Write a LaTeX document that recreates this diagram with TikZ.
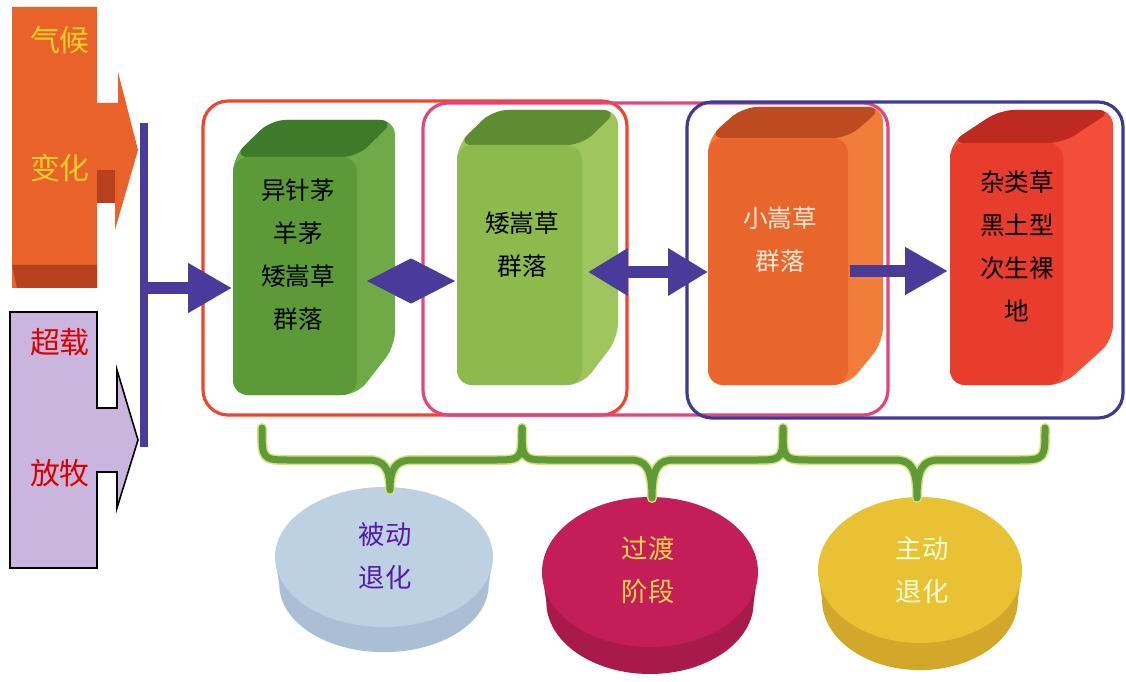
\documentclass[tikz,border=0pt]{standalone}
\usepackage{fontspec}
\newfontfamily\cjk{Noto Sans CJK SC}
\usetikzlibrary{arrows.meta,calc}
\definecolor{pur}{HTML}{4A3A9A}
\definecolor{orgA}{HTML}{E8622A}
\definecolor{orgD}{HTML}{B8401E}
\definecolor{lav}{HTML}{C9B5DD}
\definecolor{frRed}{HTML}{F0442C}
\definecolor{frPink}{HTML}{E6437C}
\definecolor{frBlue}{HTML}{3C3A94}
\definecolor{gAf}{HTML}{5C9A38}\definecolor{gAt}{HTML}{3F7A2A}\definecolor{gAs}{HTML}{70AA46}
\definecolor{gBf}{HTML}{8CBA4C}\definecolor{gBt}{HTML}{5F8C32}\definecolor{gBs}{HTML}{9EC65C}
\definecolor{oCf}{HTML}{E8662C}\definecolor{oCt}{HTML}{BE4A22}\definecolor{oCs}{HTML}{F27C3A}
\definecolor{rDf}{HTML}{E83C2C}\definecolor{rDt}{HTML}{BE2A20}\definecolor{rDs}{HTML}{F24E3A}
\definecolor{brG}{HTML}{5E9A38}\definecolor{brY}{HTML}{D8E27A}
\definecolor{dAt}{HTML}{BDD1E3}\definecolor{dAs}{HTML}{AABFD4}
\definecolor{dBt}{HTML}{C41E58}\definecolor{dBs}{HTML}{A81A4A}
\definecolor{dCt}{HTML}{E8C232}\definecolor{dCs}{HTML}{D2A82A}
\newcommand\prismbox[9]{%
  \fill[#9,rounded corners=0.3cm] (#1,#4)--(#1,#2)--(#1+#5,#2-#6)--(#3+#5,#2-#6)--(#3+#5,#4-#6-12)--(#3,#4)--cycle;
  \fill[#8,rounded corners=0.3cm] (#1,#2)--(#1+#5,#2-#6)--(#3+#5,#2-#6)--(#3,#2)--cycle;
  \fill[#7,rounded corners=0.3cm] (#1,#2) rectangle (#3,#4);}
\newcommand\diskshape[7]{%
  \fill[#7] (#1,#2+#5) ellipse[x radius=#3*0.96,y radius=#4*0.96];
  \fill[#7] (#1-#3,#2) -- (#1+#3,#2) -- (#1+#3*0.96,#2+#5) -- (#1-#3*0.96,#2+#5) -- cycle;
  \fill[#6] (#1,#2) ellipse[x radius=#3,y radius=#4];}
\newcommand\bracepath[4]{%
  (#1,428) .. controls (#1,458) and (#1,460) .. (#1+25,460) -- (#3-22,460)
  .. controls (#3-6,460) and (#3,468) .. (#3,#4)
  .. controls (#3,468) and (#3+6,460) .. (#3+22,460) -- (#2-25,460)
  .. controls (#2,460) and (#2,458) .. (#2,428)}
\tikzset{
  frame/.style={line width=1.8pt,rounded corners=0.5cm},
  boxtext/.style={font=\cjk\fontsize{14}{24.5}\selectfont,align=center,inner sep=0pt},
  sidetext/.style={font=\cjk\fontsize{17}{20}\selectfont,inner sep=0pt},
  disktext/.style={font=\cjk\fontsize{15}{24.5}\selectfont,align=center,inner sep=0pt},
  conn/.style={pur,line width=0.24cm},
  bracestyle/.style={line width=0.14cm,brG,line cap=round,line join=round}
}
\begin{document}
\begin{tikzpicture}[x=0.02cm,y=-0.02cm]
\useasboundingbox (0,0) rectangle (1126,682);
% left orange arrow
\fill[orgA] (12,7)--(97,7)--(97,103)--(118,103)--(118,72)--(138,150)--(115,230)--(115,203)--(97,203)--(97,288)--(12,288)--cycle;
\fill[orgD] (97,170) rectangle (115,203);
\fill[orgD] (12,265)--(97,265)--(97,288)--(17,288)--cycle;
\node[sidetext,text=yellow!60!orange!85!white] (t1) at (60,40) {气候};
\node[sidetext,text=yellow!60!orange!85!white] (t2) at (60,168) {变化};
% left purple arrow
\filldraw[fill=lav,draw=black,line width=0.9pt] (10,312)--(97,312)--(97,408)--(117,408)--(117,370)--(138,440)--(117,508)--(117,472)--(97,472)--(97,568)--(10,568)--cycle;
\node[sidetext,text=red!85!black] (t3) at (60,342) {超载};
\node[sidetext,text=red!85!black] (t4) at (60,473) {放牧};
% vertical bar
\coordinate (vtop) at (144,123);
\coordinate (vbot) at (144,447);
\draw[pur,line width=0.16cm] (vtop) -- (vbot);
% frames
\draw[frame,frRed] (203,101) rectangle (627,415);
\draw[frame,frPink] (423,103) rectangle (888,415);
\draw[frame,frBlue] (687,102) rectangle (1123,418);
% prisms
\prismbox{233}{157}{357}{395}{38}{37}{gAf}{gAt}{gAs}
\prismbox{457}{145}{582}{385}{36}{35}{gBf}{gBt}{gBs}
\prismbox{708}{138}{848}{385}{35}{31}{oCf}{oCt}{oCs}
\prismbox{950}{143}{1063}{385}{50}{33}{rDf}{rDt}{rDs}
\node[boxtext] (b1) at (298,255) {异针茅\\羊茅\\矮嵩草\\群落};
\node[boxtext] (b2) at (522,245) {矮嵩草\\群落};
\node[boxtext,text=orange!15!white] (b3) at (780,240) {小嵩草\\群落};
\node[boxtext] (b4) at (1017,246) {杂类草\\黑土型\\次生裸\\地};
% connectors
\coordinate (vmid) at (144,288);
\coordinate (b1in) at (232,288);
\draw[conn,-{Triangle[length=0.88cm,width=0.94cm]}] (vmid) -- (b1in);
\coordinate (d12a) at (367,281);
\coordinate (d12b) at (455,281);
\draw[pur,line width=0.5pt,{Triangle[length=0.88cm,width=0.9cm]}-{Triangle[length=0.88cm,width=0.9cm]}] (d12a) -- (d12b);
\coordinate (b2out) at (588,272);
\coordinate (b3in) at (708,272);
\draw[conn,{Triangle[length=0.8cm,width=0.9cm]}-{Triangle[length=0.8cm,width=0.9cm]}] (b2out) -- (b3in);
\coordinate (b3out) at (850,271);
\coordinate (b4in) at (948,271);
\draw[conn,-{Triangle[length=0.86cm,width=0.9cm]}] (b3out) -- (b4in);
% disks
\diskshape{384}{557}{109}{70}{28}{dAt}{dAs}
\diskshape{650}{572}{108}{75}{30}{dBt}{dBs}
\diskshape{920}{570}{102}{73}{30}{dCt}{dCs}
\node[disktext,text=blue!40!violet!80!gray] (d1) at (385,556) {被动\\退化};
\node[disktext,text=yellow!60!orange!70!white] (d2) at (648,570) {过渡\\阶段};
\node[disktext,text=yellow!15!white] (d3) at (922,570) {主动\\退化};
% braces
\draw[bracestyle,brY,line width=0.2cm] \bracepath{262}{522}{390}{490};
\draw[bracestyle,brY,line width=0.2cm] \bracepath{522}{783}{652}{498};
\draw[bracestyle,brY,line width=0.2cm] \bracepath{783}{1045}{917}{498};
\draw[bracestyle] \bracepath{262}{522}{390}{490};
\draw[bracestyle] \bracepath{522}{783}{652}{498};
\draw[bracestyle] \bracepath{783}{1045}{917}{498};
\end{tikzpicture}
\end{document}
